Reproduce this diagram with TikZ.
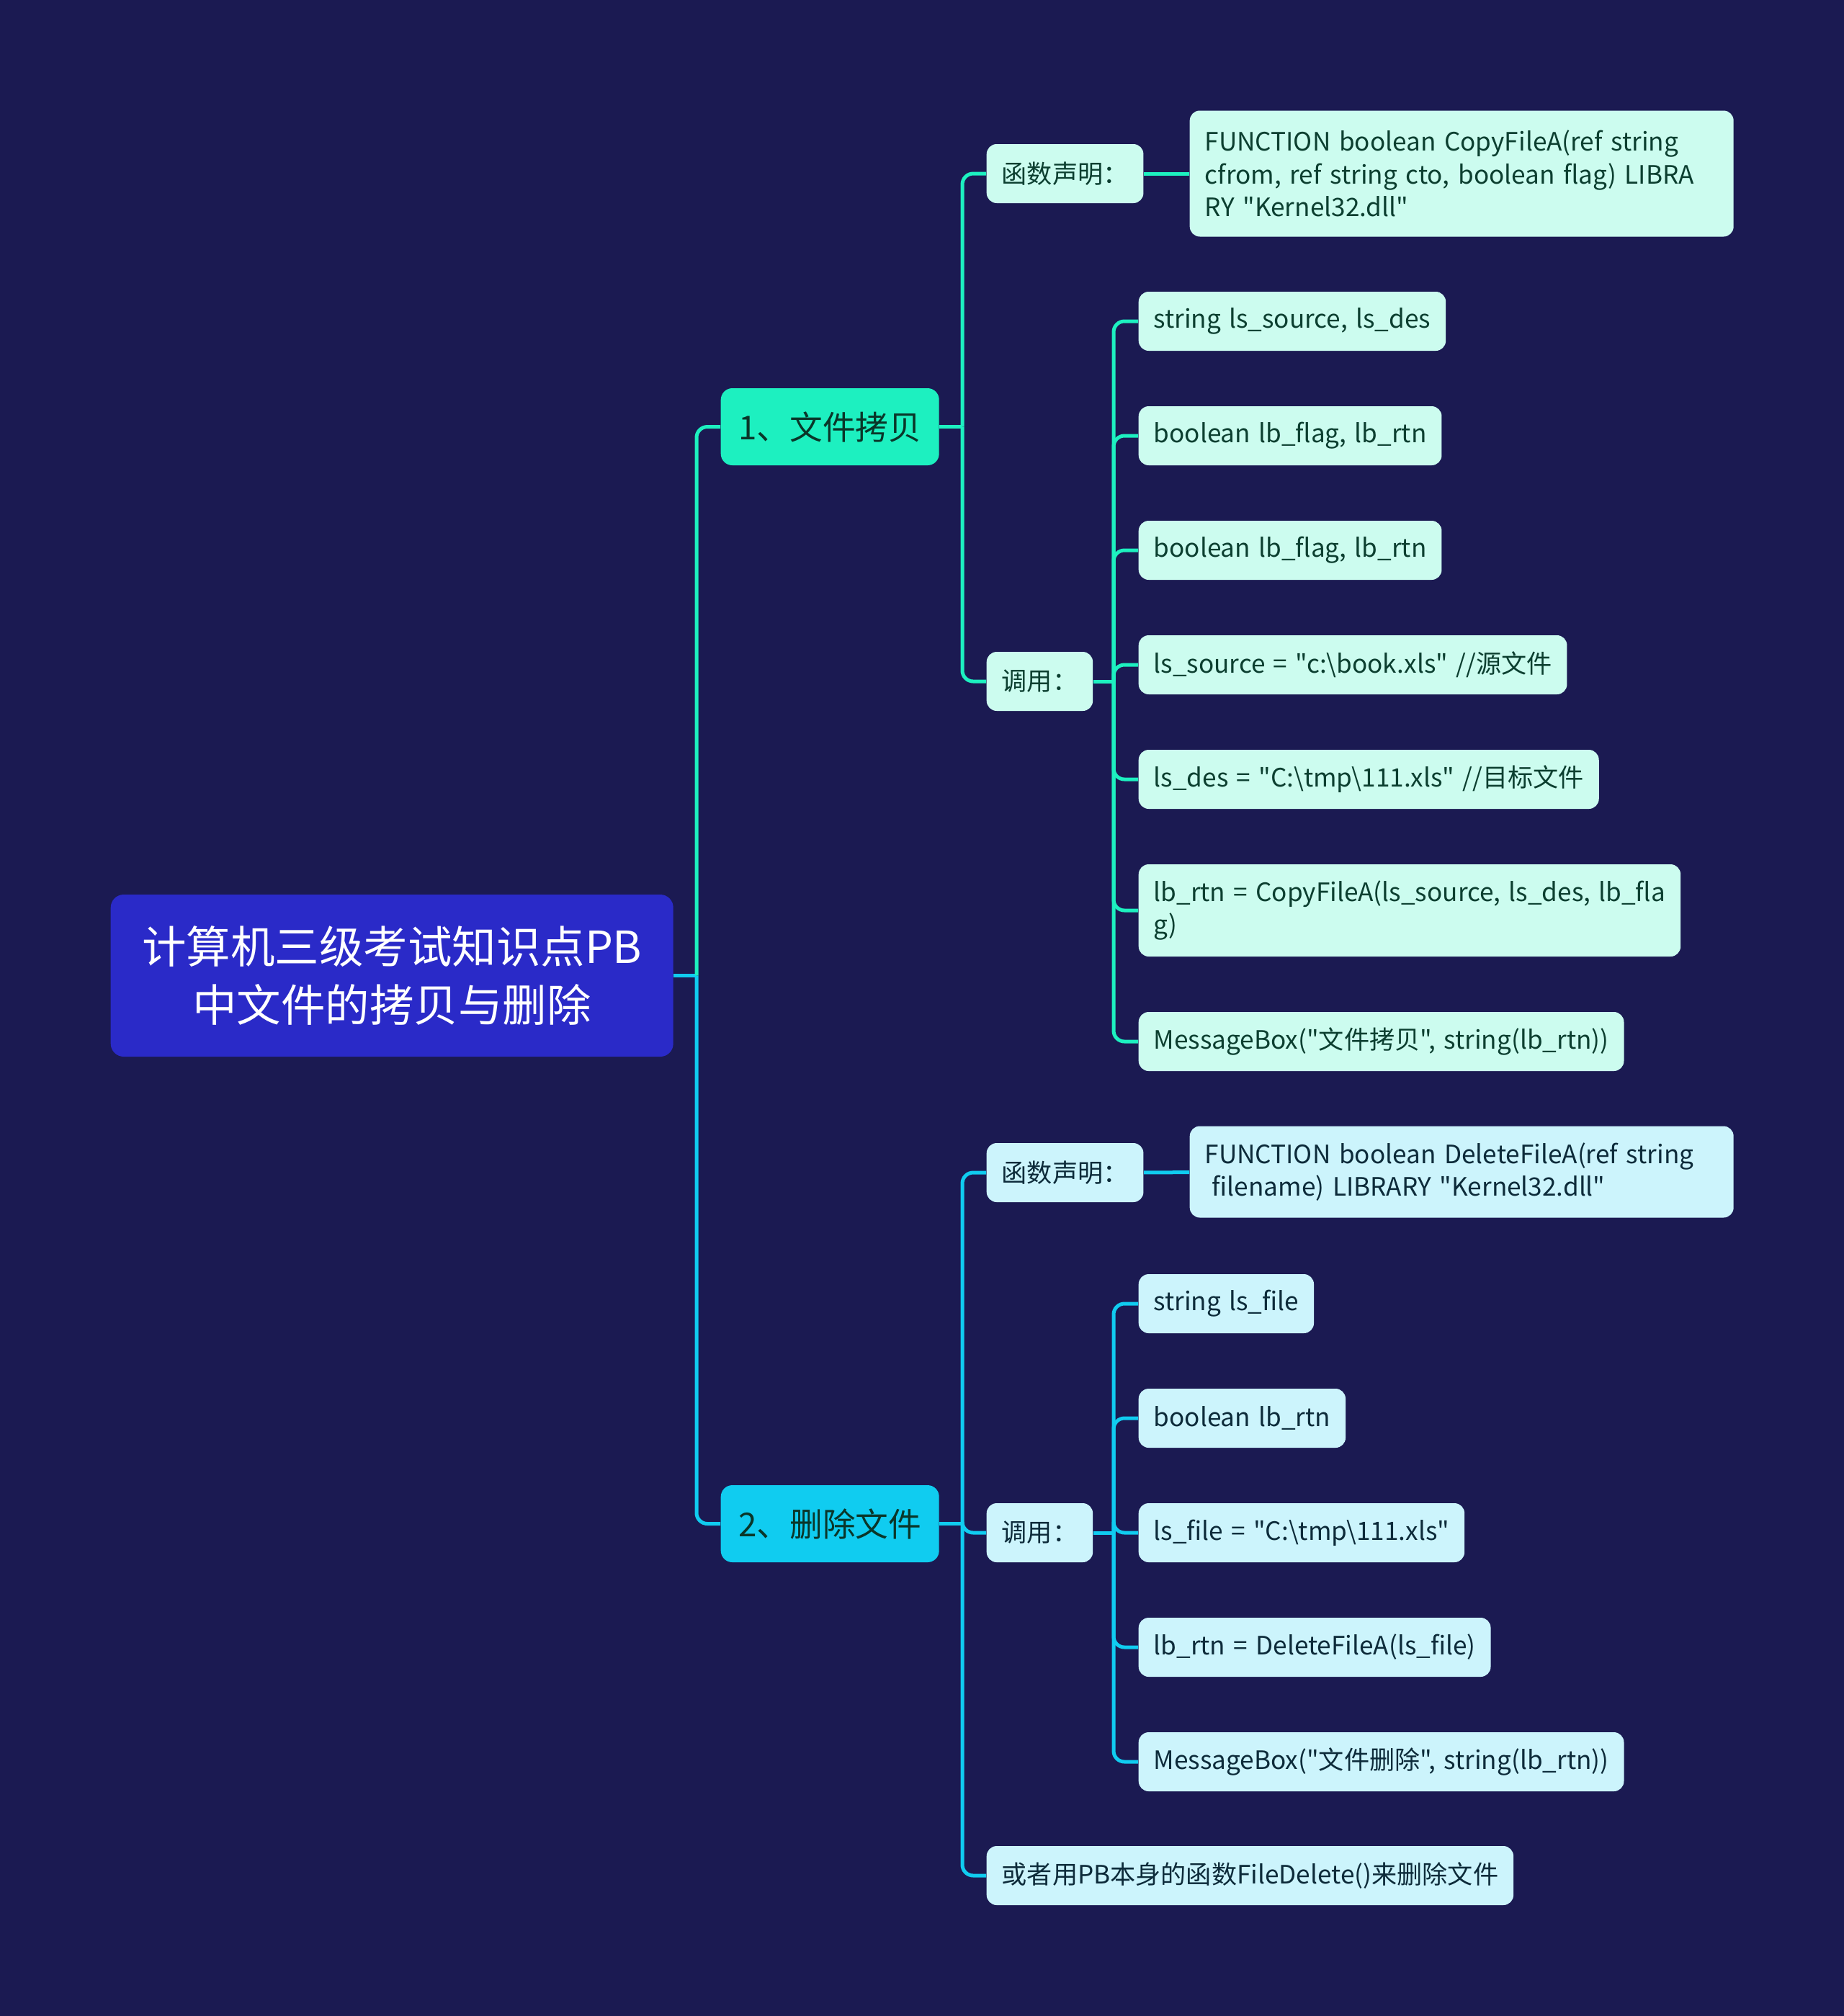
\documentclass[tikz,border=0pt]{standalone}
\usepackage{fontspec}
\setmainfont{Noto Sans CJK SC}[Ligatures=TeXOff]
\definecolor{bgnavy}{HTML}{1B1A52}
\definecolor{rootblue}{HTML}{2A2AC8}
\definecolor{mint}{HTML}{1DF0C0}
\definecolor{sky}{HTML}{10CCF0}
\definecolor{mintpale}{HTML}{CCFCEF}
\definecolor{skypale}{HTML}{CCF4FC}
\definecolor{inkgreen}{HTML}{0C3F30}
\definecolor{inkblue}{HTML}{0D2B3A}
\newcommand\leaffont{\fontsize{10}{13}\selectfont\spaceskip 0.32em\relax}

\begin{document}
\begin{tikzpicture}[
  rootbox/.style={fill=rootblue, text=white, rounded corners=0.18cm, align=center,
                  font=\fontsize{17.5}{23.3}\selectfont, minimum width=7.81cm,
                  minimum height=2.25cm, anchor=west},
  topic/.style={rounded corners=0.16cm, font=\fontsize{13}{16}\selectfont,
                text=inkgreen!85!black, minimum width=3.03cm, minimum height=1.07cm, anchor=west},
  topicA/.style={topic, fill=mint},
  topicB/.style={topic, fill=sky},
  leaf/.style={rounded corners=0.14cm, font=\leaffont, inner xsep=0.21cm,
               minimum height=0.82cm, align=left, anchor=west},
  leafA/.style={leaf, fill=mintpale, text=inkgreen},
  leafB/.style={leaf, fill=skypale, text=inkblue},
  lnA/.style={draw=mint, line width=0.05cm, rounded corners=0.15cm},
  lnB/.style={draw=sky, line width=0.05cm, rounded corners=0.15cm}
]
\useasboundingbox (0,0) rectangle (25.6,-27.99);
\fill[bgnavy] (0,0) rectangle (25.6,-27.99);
% ----- root and main topics -----
\node[rootbox] (root) at (1.53,-13.545) {计算机三级考试知识点PB\\中文件的拷贝与删除};
\node[topicA] (copy) at (10.00,-5.925) {1、文件拷贝};
\node[topicB] (del) at (10.00,-21.155) {2、删除文件};
\coordinate (rootj) at (9.67,-13.545);
\draw[lnB] (root.east) -- (rootj);
\draw[lnA] (rootj) |- (copy.west);
\draw[lnB] (rootj) |- (del.west);
% ----- 1: copy -----
\node[leafA, minimum width=2.16cm] (declA) at (13.69,-2.41) {函数声明：};
\node[leafA, text width=7.13cm, minimum height=1.75cm] (funcA) at (16.51,-2.41)
  {FUNCTION boolean CopyFileA(ref string\\cfrom, ref string cto, boolean flag) LIBRA\\RY "Kernel32.dll"};
\node[leafA, minimum width=1.45cm] (callA) at (13.69,-9.46) {调用：};
\node[leafA] (srcdes) at (15.80,-4.46) {string ls\_source, ls\_des};
\node[leafA] (flagA) at (15.80,-6.05) {boolean lb\_flag, lb\_rtn};
\node[leafA] (flagB) at (15.80,-7.64) {boolean lb\_flag, lb\_rtn};
\node[leafA] (setsrc) at (15.80,-9.23) {ls\_source = "c:\textbackslash book.xls" //源文件};
\node[leafA] (setdes) at (15.80,-10.82) {ls\_des = "C:\textbackslash tmp\textbackslash 111.xls" //目标文件};
\node[leafA, minimum height=1.28cm] (docopy) at (15.80,-12.64) {lb\_rtn = CopyFileA(ls\_source, ls\_des, lb\_fla\\g)};
\node[leafA] (msgA) at (15.80,-14.46) {MessageBox("文件拷贝", string(lb\_rtn))};
\coordinate (copyj) at (13.36,-5.925);
\coordinate (callAj) at (15.46,-9.46);
\draw[lnA] (copy.east) -- (copyj);
\foreach \n in {declA, callA}{\draw[lnA] (copyj) |- (\n.west);}
\draw[lnA] (declA) -- (funcA);
\draw[lnA] (callA.east) -- (callAj);
\foreach \n in {srcdes, flagA, flagB, setsrc, setdes, docopy, msgA}{\draw[lnA] (callAj) |- (\n.west);}
% ----- 2: delete -----
\node[leafB, minimum width=2.16cm] (declB) at (13.69,-16.28) {函数声明：};
\node[leafB, text width=7.13cm, minimum height=1.27cm] (funcB) at (16.51,-16.27)
  {FUNCTION boolean DeleteFileA(ref string\\\hspace*{0.1cm}filename) LIBRARY "Kernel32.dll"};
\node[leafB, minimum width=1.45cm] (callB) at (13.69,-21.28) {调用：};
\node[leafB] (sfile) at (15.80,-18.10) {string ls\_file};
\node[leafB] (brtn) at (15.80,-19.69) {boolean lb\_rtn};
\node[leafB] (setfile) at (15.80,-21.28) {ls\_file = "C:\textbackslash tmp\textbackslash 111.xls"};
\node[leafB] (dodel) at (15.80,-22.87) {lb\_rtn = DeleteFileA(ls\_file)};
\node[leafB] (msgB) at (15.80,-24.46) {MessageBox("文件删除", string(lb\_rtn))};
\node[leafB] (orpb) at (13.69,-26.04) {或者用PB本身的函数FileDelete()来删除文件};
\coordinate (delj) at (13.36,-21.155);
\coordinate (callBj) at (15.46,-21.28);
\draw[lnB] (del.east) -- (delj);
\foreach \n in {declB, callB, orpb}{\draw[lnB] (delj) |- (\n.west);}
\draw[lnB] (declB) -- (funcB);
\draw[lnB] (callB.east) -- (callBj);
\foreach \n in {sfile, brtn, setfile, dodel, msgB}{\draw[lnB] (callBj) |- (\n.west);}
\end{tikzpicture}
\end{document}
